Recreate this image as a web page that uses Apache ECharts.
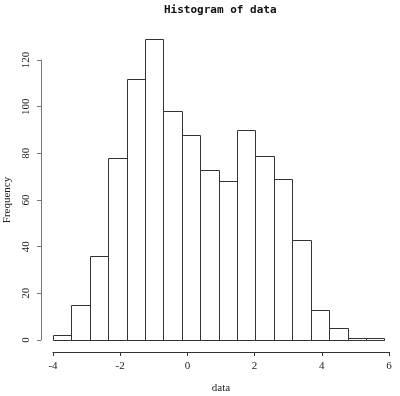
<!DOCTYPE html>
<html>
<head>
<meta charset="utf-8">
<script src="https://cdn.jsdelivr.net/npm/echarts@6/dist/echarts.min.js"></script>
<style>html,body{margin:0;padding:0;background:#fff;}#c{width:400px;height:396px;}</style>
</head>
<body>
<div id="c"></div>
<script>
// Bin edges (left edge of each bin) and right edges
const binStarts = [-4.000, -3.452, -2.904, -2.357, -1.809, -1.261, -0.713, -0.165, 0.382, 0.930, 1.478, 2.026, 2.574, 3.121, 3.669, 4.217, 4.765, 5.313];
const binEnds   = [-3.452, -2.904, -2.357, -1.809, -1.261, -0.713, -0.165, 0.382, 0.930, 1.478, 2.026, 2.574, 3.121, 3.669, 4.217, 4.765, 5.313, 5.860];
const counts    = [2, 15, 36, 78, 112, 129, 98, 88, 73, 68, 90, 79, 69, 43, 13, 5, 1, 1];
const xTicks = [-4, -2, 0, 2, 4, 6];
const yTicks = [0, 20, 40, 60, 80, 100, 120];

const data = counts.map((c, i) => [binStarts[i], binEnds[i], c]);

const chart = echarts.init(document.getElementById('c'), null, {renderer: 'canvas'});
const labelFont = 'Liberation Serif';
chart.setOption({
  animation: false,
  backgroundColor: '#fff',
  title: {
    text: 'Histogram of data',
    left: 159, top: 0,
    textStyle: {fontFamily: 'DejaVu Sans Mono', fontWeight: 'bold', fontSize: 11, color: '#111'}
  },
  grid: {left: 53, right: 11, top: 60, bottom: 56, containLabel: false, outerBoundsMode: 'none'},
  xAxis: {
    type: 'value', min: xTicks[0], max: xTicks[xTicks.length - 1], interval: 2,
    offset: 12,
    name: 'data', nameLocation: 'middle', nameGap: 31,
    nameTextStyle: {fontFamily: labelFont, fontSize: 11, color: '#222'},
    axisLine: {show: true, onZero: false, lineStyle: {color: '#333', width: 1}},
    axisTick: {show: true, length: 4, lineStyle: {color: '#333'}},
    axisLabel: {fontFamily: labelFont, fontSize: 11, color: '#222', margin: 9},
    splitLine: {show: false}
  },
  yAxis: {
    type: 'value', min: yTicks[0], max: yTicks[yTicks.length - 1], interval: 20,
    offset: 12,
    name: 'Frequency', nameLocation: 'middle', nameGap: 27, nameRotate: 90,
    nameTextStyle: {fontFamily: labelFont, fontSize: 11, color: '#222'},
    axisLine: {show: true, onZero: false, lineStyle: {color: '#777', width: 1}},
    axisTick: {show: true, length: 4, lineStyle: {color: '#777'}},
    axisLabel: {fontFamily: labelFont, fontSize: 11, color: '#222', rotate: 90, margin: 9},
    splitLine: {show: false}
  },
  series: [{
    type: 'custom',
    clip: false,
    data: data,
    encode: {x: [0, 1], y: 2},
    renderItem: function (params, api) {
      const p0 = api.coord([api.value(0), 0]);
      const p1 = api.coord([api.value(1), api.value(2)]);
      const x0 = Math.round(p0[0]) + 0.5, x1 = Math.round(p1[0]) + 0.5;
      const y0 = Math.round(p0[1]) + 0.5, y1 = Math.round(p1[1]) + 0.5;
      return {
        type: 'rect',
        shape: {x: x0, y: y1, width: x1 - x0, height: y0 - y1},
        style: {fill: '#fff', stroke: '#333', lineWidth: 1}
      };
    }
  }]
});
</script>
</body>
</html>
